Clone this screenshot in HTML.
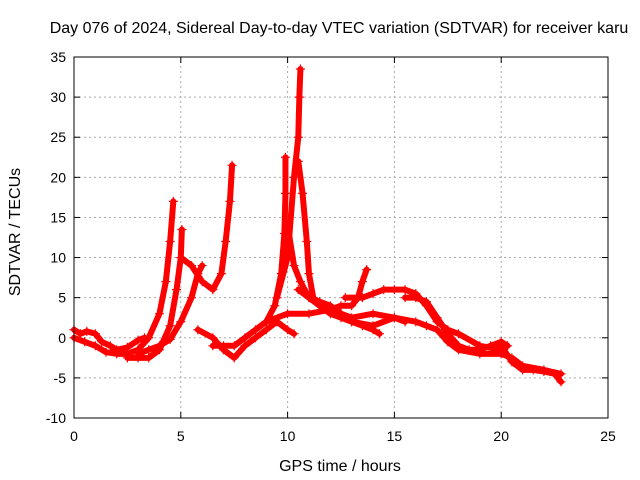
<!DOCTYPE html>
<html><head><meta charset="utf-8"><style>
body{margin:0;background:#fff;}
svg{display:block;font-family:"Liberation Sans",sans-serif;}
</style></head><body>
<svg id="chart" width="640" height="480">
<rect width="640" height="480" fill="#fff"/>
<text x="339" y="33" font-size="16" text-anchor="middle">Day 076 of 2024, Sidereal Day-to-day VTEC variation (SDTVAR) for receiver karu</text>
<g id="grid"></g><g id="ticks"></g><g id="series"></g>
<rect x="74" y="57" width="534" height="361" fill="none" stroke="#000" stroke-width="1"/>
<text x="340" y="471" font-size="16" text-anchor="middle">GPS time / hours</text>
<text transform="translate(20,232) rotate(-90)" font-size="16" text-anchor="middle">SDTVAR / TECUs</text>
</svg>
<script>
const xTicks=[0,5,10,15,20,25];
const yTicks=[-10,-5,0,5,10,15,20,25,30,35];
const track1=[[0,1],[0.3,0.5],[0.6,0.8],[1,0.5],[1.3,-0.5],[1.7,-1],[2,-1.5],[2.5,-1.2],[3,-0.3],[3.3,0]];
const track2=[[0,0],[0.5,-0.5],[1,-1],[1.5,-1.8],[2,-2],[2.5,-2],[3,-1.5],[3.5,0],[4,3],[4.3,7],[4.5,12],[4.65,17]];
const track3=[[2.5,-2.5],[3,-2.5],[3.5,-2.5],[4,-1.5],[4.5,1.5],[4.8,6],[5,10],[5.05,13.5]];
const track4=[[3,-2],[3.5,-1.5],[4,-1],[4.5,-0.2],[5,2],[5.5,5],[5.8,8],[6,9]];
const track5=[[5,10],[5.5,9],[6,7],[6.5,6],[6.9,8],[7.1,12],[7.3,17],[7.4,21.5]];
const track6=[[5.8,1],[6.5,0],[7,-1.5],[7.5,-2.5],[8,-1],[8.5,0],[9,1],[9.5,2],[10,1],[10.3,0.5]];
const track7=[[6.5,-1],[7,-1],[7.5,-1],[8,0],[8.5,1],[9,2],[9.4,4],[9.7,8],[9.85,13],[9.9,18],[9.9,22.5]];
const track8=[[9.5,5],[10,10],[10.3,20],[10.5,25],[10.55,30],[10.6,33.5]];
const track9=[[10,14],[10.3,9],[10.6,7],[11,5],[11.5,4],[12,3],[12.5,2.5],[13,2],[13.5,1.5],[14,1],[14.3,0.5]];
const track10=[[9,2],[10,3],[11,3],[12,3.5],[12.5,4],[13,4],[13.3,5],[13.5,7],[13.7,8.5]];
const track11=[[10.5,6],[11,5],[11.5,4.5],[12,4],[12.5,3],[13,2.5],[14,3],[15,2.5],[15.5,2]];
const track12=[[10.5,22],[10.7,18],[10.9,12],[11,8],[11.2,5],[11.5,4]];
const track13=[[12.7,5],[13.5,5],[14,5.5],[14.5,6],[15,6],[15.5,6],[16,5.5],[16.5,4],[17,2],[17.5,1],[18,0.5],[19,-1],[20,-1.5]];
const track14=[[13,2],[14,1.5],[15,2.5],[16,2],[16.5,1.5],[17,1],[17.5,-0.5],[18,-1.5],[19,-2],[20,-2],[20.5,-2.5],[21,-3.5],[22,-4],[22.8,-4.5]];
const track15=[[15.5,5],[16,5],[16.5,4.5],[17,2.5],[17.5,0.5],[18,-1],[18.5,-1.5],[19,-1.5],[19.5,-1],[20,-0.5],[20.3,-1]];
const track16=[[20,-1],[20.5,-3],[21,-4],[21.5,-4],[22,-4.2],[22.5,-4.5],[22.8,-5.5]];
const tracks=[track1,track2,track3,track4,track5,track6,track7,track8,track9,track10,track11,track12,track13,track14,track15,track16];
const NS="http://www.w3.org/2000/svg";
const X0=74,X1=608,Y0=418,Y1=57;
const sx=v=>X0+(v-0)/(25-0)*(X1-X0);
const sy=v=>Y0-(v+10)/(35+10)*(Y0-Y1);
const grid=document.getElementById('grid'),ticks=document.getElementById('ticks'),series=document.getElementById('series');
function mk(tag,attrs,parent){const e=document.createElementNS(NS,tag);for(const k in attrs)e.setAttribute(k,attrs[k]);parent.appendChild(e);return e;}
xTicks.forEach(t=>{
 const x=sx(t);
 if(t>0&&t<25){const g=mk('line',{x1:x,x2:x,y1:Y0,y2:Y1,stroke:'#aaa','stroke-dasharray':'2,3'},grid);
 
 }
 mk('line',{x1:x,x2:x,y1:Y0,y2:Y0-6,stroke:'#000'},ticks);
 mk('line',{x1:x,x2:x,y1:Y1,y2:Y1+6,stroke:'#000'},ticks);
 const l=mk('text',{x:x,y:Y0+23,'font-size':14,'text-anchor':'middle'},ticks);l.textContent=t;
 
 
});
yTicks.forEach(t=>{
 const y=sy(t);
 if(t>-10&&t<35){const g=mk('line',{x1:X0,x2:X1,y1:y,y2:y,stroke:'#aaa','stroke-dasharray':'2,3'},grid);
 
 }
 mk('line',{x1:X0,x2:X0+6,y1:y,y2:y,stroke:'#000'},ticks);
 mk('line',{x1:X1,x2:X1-6,y1:y,y2:y,stroke:'#000'},ticks);
 const l=mk('text',{x:X0-8,y:y+5,'font-size':14,'text-anchor':'end'},ticks);l.textContent=t;
 
 
});
tracks.forEach((tr,i)=>{
 const g=mk('g',{},series);
 
 
 mk('polyline',{points:tr.map(p=>sx(p[0])+','+sy(p[1])).join(' '),fill:'none',stroke:'#f00','stroke-width':6,'stroke-linejoin':'round','stroke-linecap':'round'},g);
 tr.forEach(p=>{const x=sx(p[0]),y=sy(p[1]);
  mk('path',{d:`M${x-4.5},${y}h9M${x},${y-4.5}v9`,stroke:'#f00','stroke-width':1.2},g);});
});
</script>
</body></html>
